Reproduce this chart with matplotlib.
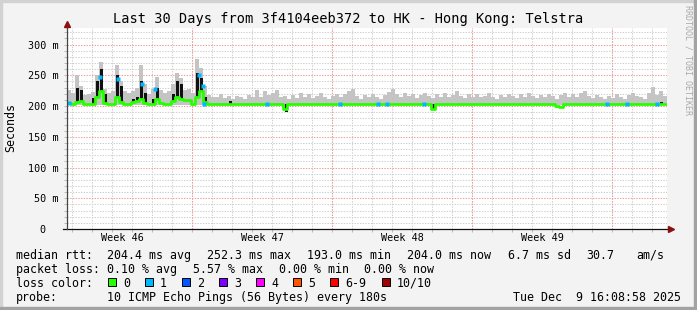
import numpy as np
import matplotlib.pyplot as plt
from matplotlib.patches import Rectangle

W, H = 697, 310


def fx(px):
    return px / W


def fy(py):
    return 1 - py / H


MONO = "DejaVu Sans Mono"

# one bin = 0.2 day (4.8 h), 30 days in total
bin_days = 0.2

# median rtt per bin (ms)
med = [
    205, 203, 206, 208, 203, 203, 204, 215, 224, 205,
    203, 203, 215, 206, 203, 204, 207, 209, 212, 205,
    203, 204, 212, 205, 203, 203, 208, 215, 212, 210,
    210, 203, 215, 225, 206, 204, 204, 204, 204, 204,
    204, 204, 203, 204, 204, 204, 204, 203, 204, 204,
    204, 204, 204, 204, 195, 204, 204, 204, 204, 204,
    204, 204, 204, 203, 204, 204, 204, 204, 204, 204,
    204, 204, 204, 204, 204, 204, 203, 204, 204, 204,
    204, 204, 204, 204, 204, 204, 204, 204, 204, 204,
    204, 196, 204, 204, 204, 204, 204, 204, 204, 204,
    204, 204, 204, 204, 204, 204, 204, 204, 204, 204,
    204, 204, 204, 204, 204, 204, 204, 204, 204, 204,
    204, 204, 200, 199, 204, 204, 204, 204, 204, 204,
    204, 204, 204, 204, 204, 204, 204, 204, 204, 204,
    204, 204, 204, 204, 204, 204, 204, 204, 204, 204,
]

# top of the grey smoke per bin (ms)
smoke_hi = [
    226, 222, 251, 232, 218, 220, 223, 250, 272, 228,
    222, 225, 267, 240, 224, 222, 225, 230, 267, 236,
    220, 228, 248, 226, 222, 224, 236, 253, 246, 226,
    228, 222, 277, 262, 232, 218, 214, 214, 220, 213,
    216, 212, 217, 214, 212, 218, 215, 226, 214, 224,
    218, 222, 226, 214, 216, 212, 218, 213, 221, 215,
    219, 213, 217, 221, 214, 212, 216, 220, 215, 219,
    224, 228, 216, 212, 218, 214, 220, 215, 212, 218,
    223, 228, 219, 214, 221, 216, 220, 213, 218, 222,
    216, 213, 219, 215, 221, 214, 218, 224, 216, 213,
    219, 215, 220, 214, 217, 222, 215, 212, 218, 214,
    220, 216, 213, 219, 215, 221, 217, 213, 218, 214,
    220, 216, 212, 218, 222, 215, 219, 214, 221, 224,
    216, 213, 218, 215, 212, 217, 213, 219, 215, 212,
    218, 221, 216, 214, 212, 222, 231, 218, 224, 216,
]
smoke_floor = 201

# dense (black) smoke
dark_day = [0.5, 0.7, 1.3, 1.5, 1.7, 1.9, 2.5, 2.7, 3.3, 3.5, 3.7, 3.9,
            4.3, 4.5, 5.3, 5.5, 5.7, 6.5, 6.7, 6.9, 8.15, 10.95, 18.3, 29.7]
dark_lo = [206, 208, 204, 215, 224, 205, 215, 206, 207, 209, 212, 205,
           204, 212, 208, 215, 212, 215, 225, 206, 203, 191, 194, 202]
dark_hi = [229, 226, 213, 240, 260, 220, 250, 232, 212, 215, 240, 222,
           212, 230, 220, 240, 236, 253, 245, 215, 208, 204, 203, 207]

# median samples with 1/10 loss
loss1_day = [0.1, 1.65, 2.55, 3.75, 4.4, 6.6, 6.8, 6.85, 10.0, 13.65,
             15.55, 16.0, 17.85, 27.0, 28.0, 29.5]
loss1_ms = [205, 248, 244, 236, 228, 250, 232, 204, 204, 204,
            204, 204, 204, 204, 204, 204]

week_labels = ["Week 46", "Week 47", "Week 48", "Week 49"]
week_mid = [2.75, 9.75, 16.75, 23.75]
week_lines = [6.25, 13.25, 20.25, 27.25]
day_lines = np.arange(0.25, 30, 1.0)

y_major = [0, 50, 100, 150, 200, 250, 300]
y_labels = ["0  ", "50 m", "100 m", "150 m", "200 m", "250 m", "300 m"]
y_minor = np.arange(10, 330, 10)

loss_labels = ["0", "1", "2", "3", "4", "5", "6-9", "10/10"]
loss_colors = ["#26ff00", "#00b8ff", "#0059ff", "#7e00ff",
               "#ff00ff", "#ff5500", "#ff0000", "#a10000"]

fig = plt.figure(figsize=(W / 100, H / 100), dpi=100, facecolor="#f3f3f3")

ax = fig.add_axes([fx(67), fy(229), 600 / W, 201 / H])
ax.set_facecolor("white")
ax.set_xlim(0, 30)
ax.set_ylim(0, 327)

# grid
for v in y_minor:
    if v % 50:
        ax.axhline(v, color="#cfcfcf", lw=0.75, ls=(0, (1.3, 1.3)), zorder=0.5)
for v in day_lines:
    ax.axvline(v, color="#cfcfcf", lw=0.75, ls=(0, (1.3, 1.3)), zorder=0.5)
for v in y_major[1:]:
    ax.axhline(v, color="#f29a9a", lw=0.75, ls=(0, (1.3, 1.3)), zorder=0.6)
for v in week_lines:
    ax.axvline(v, color="#f29a9a", lw=0.75, ls=(0, (1.3, 1.3)), zorder=0.6)

# smoke + median
t = np.arange(len(med) + 1) * bin_days
hi = smoke_hi + [smoke_hi[-1]]
md = med + [med[-1]]
ax.fill_between(t, smoke_floor, hi, step="post", color="#c4c4c4",
                linewidth=0, zorder=1)
ax.bar(dark_day, np.array(dark_hi) - np.array(dark_lo), bottom=dark_lo,
       width=0.15, color="#111111", linewidth=0, zorder=2)
ax.step(t, md, where="post", color="#26ff00", lw=2.0, zorder=3)
ax.plot(loss1_day, loss1_ms, ls="none", marker="s", ms=2.4,
        color="#00b8ff", mec="none", zorder=4)

# axes
for s in ax.spines.values():
    s.set_visible(False)
ax.set_yticks(y_major)
ax.set_yticklabels(y_labels, family=MONO, fontsize=7.3)
ax.set_yticks(y_minor, minor=True)
ax.set_xticks(week_mid)
ax.set_xticklabels(week_labels, family=MONO, fontsize=7.3)
ax.set_xticks(day_lines, minor=True)
ax.tick_params(axis="y", which="both", length=2, width=0.7, color="#bbbbbb",
               pad=4.3)
ax.tick_params(axis="x", which="major", length=0, pad=3)
ax.tick_params(axis="x", which="minor", length=2, width=0.7, color="#bbbbbb")

ax.plot([-4 / 600, 1 + 1 / 600], [0, 0], transform=ax.transAxes,
        color="#111111", lw=0.9, clip_on=False, zorder=5)
ax.plot([0, 0], [0, 1 + 2 / 201], transform=ax.transAxes,
        color="#444444", lw=0.9, clip_on=False, zorder=5)
ax.plot([1 + 3.5 / 600], [0], marker=">", ms=4, color="#8b1010",
        transform=ax.transAxes, clip_on=False, zorder=6)
ax.plot([0], [1 + 4 / 201], marker="^", ms=4, color="#8b1010",
        transform=ax.transAxes, clip_on=False, zorder=6)

fig.text(fx(11), fy(128), "Seconds", family=MONO, fontsize=8.4,
         rotation=90, ha="center", va="center")

# frame
fig.patches.append(Rectangle((0, 1 - 2 / H), 1, 2 / H, transform=fig.transFigure,
                             color="#d2d2d2", zorder=0))
fig.patches.append(Rectangle((0, 0), 2 / W, 1, transform=fig.transFigure,
                             color="#d2d2d2", zorder=0))
fig.patches.append(Rectangle((0, 0), 1, 3 / H, transform=fig.transFigure,
                             color="#a2a2a2", zorder=0))
fig.patches.append(Rectangle((1 - 3 / W, 0), 3 / W, 1, transform=fig.transFigure,
                             color="#a2a2a2", zorder=0))

fig.text(fx(348), fy(19), "Last 30 Days from 3f4104eeb372 to HK - Hong Kong: Telstra",
         family=MONO, fontsize=9.8, ha="center", va="center")
fig.text(fx(688), fy(5), "RRDTOOL / TOBI OETIKER", family=MONO, fontsize=6,
         color="#aaaaaa", rotation=270, ha="center", va="top")

# legend
fs = 8.4
rows = [
    (254, [(16, "median rtt:"), (107, "204.4 ms avg"), (207, "252.3 ms max"),
           (307, "193.0 ms min"), (407, "204.0 ms now"), (508, "6.7 ms sd"),
           (586, "30.7"), (636, "am/s")]),
    (268, [(16, "packet loss:"), (107, "0.10 % avg"), (193, "5.57 % max"),
           (279, "0.00 % min"), (364, "0.00 % now")]),
    (282, [(16, "loss color:")]),
    (296, [(16, "probe:"), (107, "10 ICMP Echo Pings (56 Bytes) every 180s")]),
]
for y, items in rows:
    for x, s in items:
        fig.text(fx(x), fy(y), s, family=MONO, fontsize=fs, ha="left",
                 va="center_baseline")
fig.text(fx(681), fy(296), "Tue Dec  9 16:08:58 2025", family=MONO, fontsize=fs,
         ha="right", va="center_baseline")

box_x = [108, 145, 182, 219, 256, 293, 330, 382]
for bx, lab, col in zip(box_x, loss_labels, loss_colors):
    fig.patches.append(Rectangle((fx(bx), fy(286)), 8 / W, 8 / H,
                                 transform=fig.transFigure, facecolor=col,
                                 edgecolor="black", lw=0.7))
    fig.text(fx(bx + 15), fy(282), lab, family=MONO, fontsize=fs, ha="left",
             va="center_baseline")

fig.savefig("out.png", dpi=100, facecolor=fig.get_facecolor())
